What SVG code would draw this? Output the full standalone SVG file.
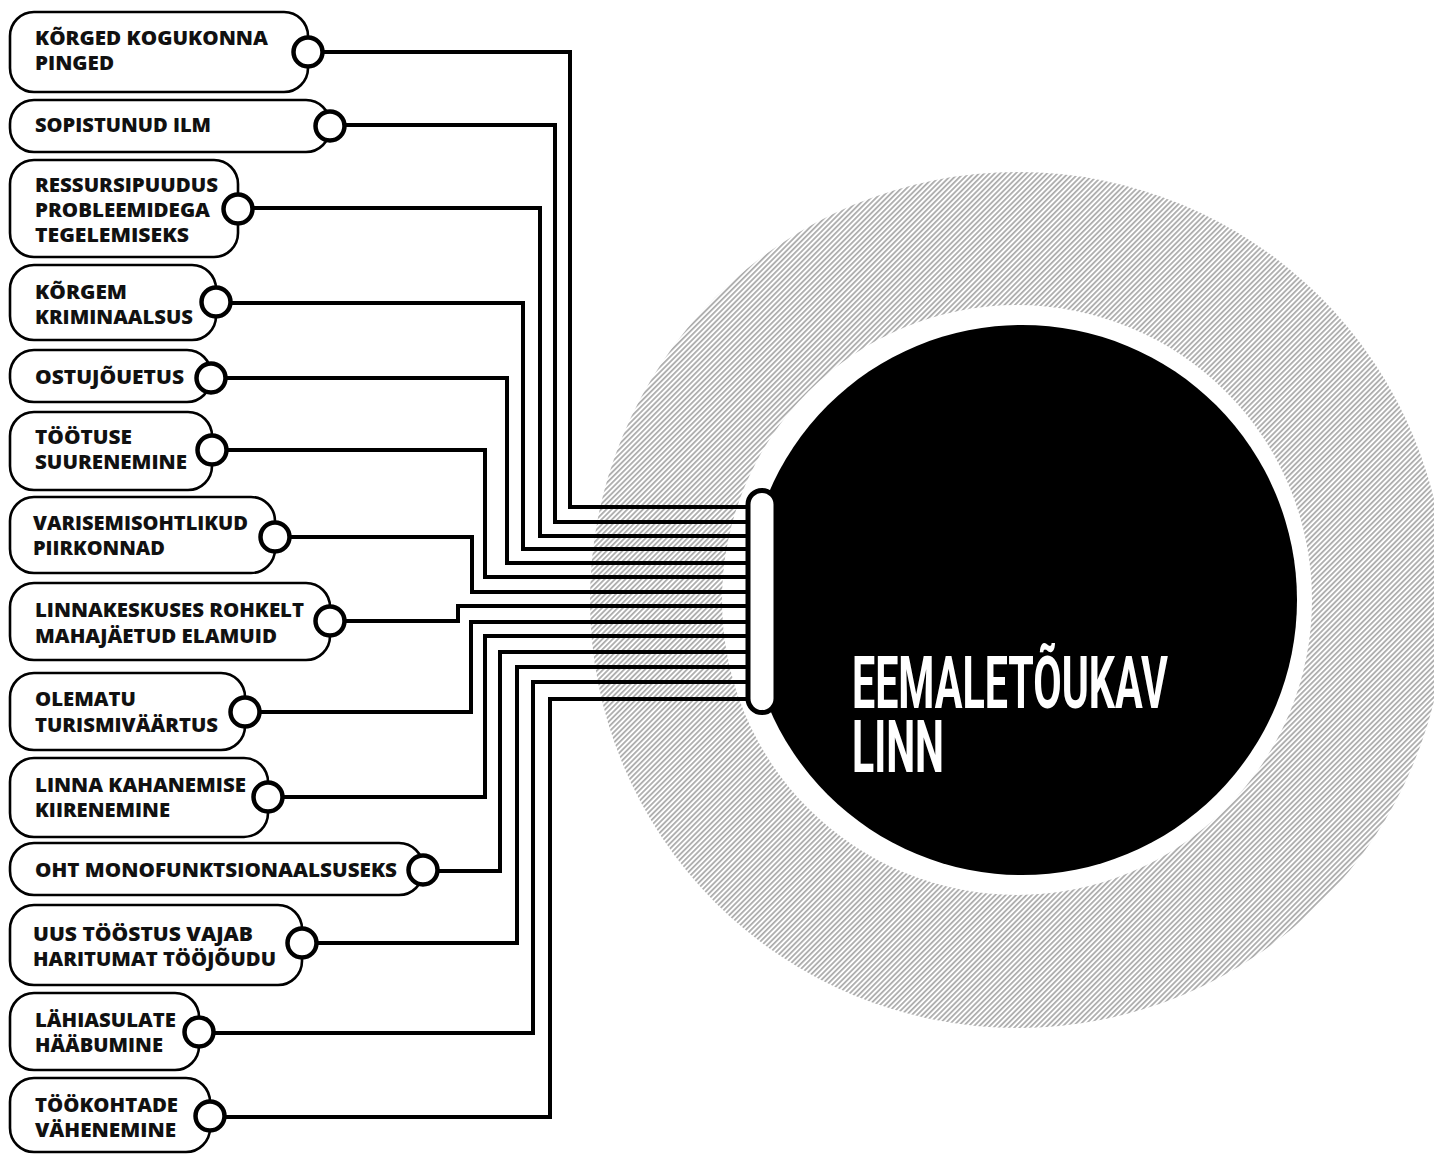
<svg xmlns="http://www.w3.org/2000/svg" width="1434" height="1155" viewBox="0 0 1434 1155">
  <defs>
    <!-- fine diagonal hatching for the outer ring -->
    <pattern id="hatch" patternUnits="userSpaceOnUse" width="3.7" height="3.7" patternTransform="rotate(45)">
      <rect width="3.7" height="3.7" fill="#fff"/>
      <line x1="0.9" y1="0" x2="0.9" y2="3.7" stroke="#7a7a7a" stroke-width="1.1"/>
    </pattern>
  </defs>
  <style>
    .box { fill: #fff; stroke: #000; stroke-width: 2.6; }
    .port { fill: #fff; stroke: #000; stroke-width: 4.5; }
    .lbl { font-family: "Open Sans", "Liberation Sans", sans-serif; font-weight: 800; font-size: 19.5px; fill: #111; }
    .wire { fill: none; stroke: #000; stroke-width: 4; stroke-linejoin: miter; stroke-linecap: butt; }
    .title { font-family: Roboto, "Liberation Sans", sans-serif; font-weight: 700; font-size: 72px; fill: #fff; }
  </style>

  <rect width="1434" height="1155" fill="#fff"/>

  <!-- central hub: hatched halo, white gap, black disc -->
  <g id="hub">
    <circle cx="1018" cy="600" r="428" fill="url(#hatch)"/>
    <circle cx="1017" cy="600" r="295" fill="#fff"/>
    <circle cx="1022" cy="600" r="275" fill="#000"/>
    <text class="title" x="852" y="708" textLength="316" lengthAdjust="spacingAndGlyphs">EEMALETÕUKAV</text>
    <text class="title" x="852" y="772" textLength="92" lengthAdjust="spacingAndGlyphs">LINN</text>
  </g>

  <!-- wires from each cause into the hub connector -->
  <g id="connectors">
    <path class="wire" d="M308,52 H570 V507 H750"/>
    <path class="wire" d="M330,125 H555 V522 H750"/>
    <path class="wire" d="M238,208 H540 V536 H750"/>
    <path class="wire" d="M216,303 H523 V549 H750"/>
    <path class="wire" d="M211,378 H507 V563 H750"/>
    <path class="wire" d="M212,450 H485 V577 H750"/>
    <path class="wire" d="M275,537 H472 V592 H750"/>
    <path class="wire" d="M330,621 H458 V606 H750"/>
    <path class="wire" d="M245,712 H471 V622 H750"/>
    <path class="wire" d="M268,797 H485 V636 H750"/>
    <path class="wire" d="M423,871 H500 V652 H750"/>
    <path class="wire" d="M302,943 H517 V667 H750"/>
    <path class="wire" d="M199,1033 H533 V682 H750"/>
    <path class="wire" d="M210,1117 H550 V699 H750"/>
  </g>

  <!-- connector bar on the hub -->
  <g id="hub-bar">
    <rect x="748" y="490.5" width="28" height="222" rx="14" fill="#fff" stroke="#000" stroke-width="5"/>
  </g>

  <g id="n01">
    <rect class="box" x="10" y="12" width="298" height="80" rx="24"/>
    <text class="lbl" x="35" y="45" textLength="233" lengthAdjust="spacingAndGlyphs">KÕRGED KOGUKONNA</text>
    <text class="lbl" x="35" y="70" textLength="79" lengthAdjust="spacingAndGlyphs">PINGED</text>
    <circle class="port" cx="308" cy="52" r="14.5"/>
  </g>
  <g id="n02">
    <rect class="box" x="10" y="100" width="320" height="52" rx="24"/>
    <text class="lbl" x="35" y="132" textLength="176" lengthAdjust="spacingAndGlyphs">SOPISTUNUD ILM</text>
    <circle class="port" cx="330" cy="126" r="14.5"/>
  </g>
  <g id="n03">
    <rect class="box" x="10" y="160" width="228" height="97" rx="24"/>
    <text class="lbl" x="35" y="192" textLength="183" lengthAdjust="spacingAndGlyphs">RESSURSIPUUDUS</text>
    <text class="lbl" x="35" y="217" textLength="175" lengthAdjust="spacingAndGlyphs">PROBLEEMIDEGA</text>
    <text class="lbl" x="35" y="242" textLength="154" lengthAdjust="spacingAndGlyphs">TEGELEMISEKS</text>
    <circle class="port" cx="238" cy="209" r="14.5"/>
  </g>
  <g id="n04">
    <rect class="box" x="10" y="265" width="206" height="75" rx="24"/>
    <text class="lbl" x="35" y="299" textLength="92" lengthAdjust="spacingAndGlyphs">KÕRGEM</text>
    <text class="lbl" x="35" y="324" textLength="158" lengthAdjust="spacingAndGlyphs">KRIMINAALSUS</text>
    <circle class="port" cx="216" cy="302" r="14.5"/>
  </g>
  <g id="n05">
    <rect class="box" x="10" y="350" width="201" height="52" rx="24"/>
    <text class="lbl" x="35" y="384" textLength="149" lengthAdjust="spacingAndGlyphs">OSTUJÕUETUS</text>
    <circle class="port" cx="211" cy="378" r="14.5"/>
  </g>
  <g id="n06">
    <rect class="box" x="10" y="412" width="202" height="78" rx="24"/>
    <text class="lbl" x="35" y="444" textLength="97" lengthAdjust="spacingAndGlyphs">TÖÖTUSE</text>
    <text class="lbl" x="35" y="469" textLength="152" lengthAdjust="spacingAndGlyphs">SUURENEMINE</text>
    <circle class="port" cx="212" cy="450" r="14.5"/>
  </g>
  <g id="n07">
    <rect class="box" x="10" y="497" width="265" height="76" rx="24"/>
    <text class="lbl" x="33" y="530" textLength="215" lengthAdjust="spacingAndGlyphs">VARISEMISOHTLIKUD</text>
    <text class="lbl" x="33" y="555" textLength="132" lengthAdjust="spacingAndGlyphs">PIIRKONNAD</text>
    <circle class="port" cx="275" cy="537" r="14.5"/>
  </g>
  <g id="n08">
    <rect class="box" x="10" y="583" width="320" height="77" rx="24"/>
    <text class="lbl" x="35" y="617" textLength="269" lengthAdjust="spacingAndGlyphs">LINNAKESKUSES ROHKELT</text>
    <text class="lbl" x="35" y="643" textLength="242" lengthAdjust="spacingAndGlyphs">MAHAJÄETUD ELAMUID</text>
    <circle class="port" cx="330" cy="621" r="14.5"/>
  </g>
  <g id="n09">
    <rect class="box" x="10" y="673" width="235" height="77" rx="24"/>
    <text class="lbl" x="35" y="706" textLength="101" lengthAdjust="spacingAndGlyphs">OLEMATU</text>
    <text class="lbl" x="35" y="732" textLength="183" lengthAdjust="spacingAndGlyphs">TURISMIVÄÄRTUS</text>
    <circle class="port" cx="245" cy="712" r="14.5"/>
  </g>
  <g id="n10">
    <rect class="box" x="10" y="758" width="258" height="79" rx="24"/>
    <text class="lbl" x="35" y="792" textLength="211" lengthAdjust="spacingAndGlyphs">LINNA KAHANEMISE</text>
    <text class="lbl" x="35" y="817" textLength="135" lengthAdjust="spacingAndGlyphs">KIIRENEMINE</text>
    <circle class="port" cx="268" cy="797" r="14.5"/>
  </g>
  <g id="n11">
    <rect class="box" x="10" y="843" width="413" height="52" rx="24"/>
    <text class="lbl" x="35" y="877" textLength="362" lengthAdjust="spacingAndGlyphs">OHT MONOFUNKTSIONAALSUSEKS</text>
    <circle class="port" cx="423" cy="870" r="14.5"/>
  </g>
  <g id="n12">
    <rect class="box" x="10" y="905" width="292" height="80" rx="24"/>
    <text class="lbl" x="33" y="941" textLength="220" lengthAdjust="spacingAndGlyphs">UUS TÖÖSTUS VAJAB</text>
    <text class="lbl" x="33" y="966" textLength="243" lengthAdjust="spacingAndGlyphs">HARITUMAT TÖÖJÕUDU</text>
    <circle class="port" cx="302" cy="943" r="14.5"/>
  </g>
  <g id="n13">
    <rect class="box" x="10" y="993" width="189" height="77" rx="24"/>
    <text class="lbl" x="35" y="1027" textLength="141" lengthAdjust="spacingAndGlyphs">LÄHIASULATE</text>
    <text class="lbl" x="35" y="1052" textLength="128" lengthAdjust="spacingAndGlyphs">HÄÄBUMINE</text>
    <circle class="port" cx="199" cy="1032" r="14.5"/>
  </g>
  <g id="n14">
    <rect class="box" x="10" y="1078" width="200" height="74" rx="24"/>
    <text class="lbl" x="35" y="1112" textLength="143" lengthAdjust="spacingAndGlyphs">TÖÖKOHTADE</text>
    <text class="lbl" x="35" y="1137" textLength="141" lengthAdjust="spacingAndGlyphs">VÄHENEMINE</text>
    <circle class="port" cx="210" cy="1116" r="14.5"/>
  </g>
</svg>
